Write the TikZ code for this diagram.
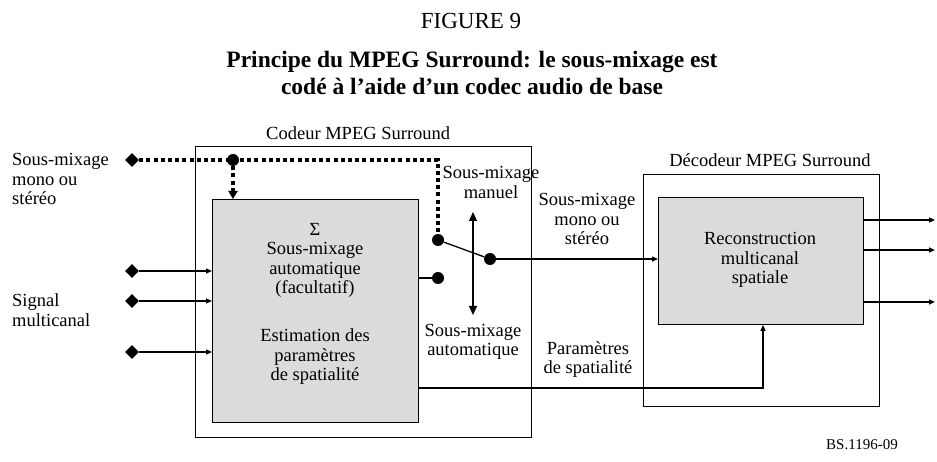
\documentclass[tikz,border=0pt]{standalone}
\usepackage{fontspec}
\setmainfont{Liberation Serif}
\usetikzlibrary{arrows.meta,shapes.geometric}
\begin{document}
\begin{tikzpicture}[x=1pt,y=-1pt,
  lbl/.style={font=\fontsize{18.5}{19.5}\selectfont, align=center, inner sep=0},
  lbll/.style={font=\fontsize{18.5}{19.5}\selectfont, align=left, inner sep=0, anchor=west},
  box/.style={draw, line width=0.9pt, inner sep=0, anchor=north west},
  graybox/.style={box, fill=black!14},
  dia/.style={diamond, fill, inner sep=0, minimum width=14pt, minimum height=14pt},
  dot/.style={circle, fill, inner sep=0, minimum size=12pt},
  wire/.style={line width=1.3pt},
  arr/.style={wire, -{Triangle[length=6pt,width=5pt]}},
  dotline/.style={line width=3.8pt, dash pattern=on 4pt off 3.2pt},
  bigarr/.style={wire, {Triangle[length=9pt,width=8pt]}-{Triangle[length=9pt,width=8pt]}},
  ttl/.style={inner sep=0, anchor=base, font=\fontsize{23.5}{27}\selectfont\bfseries}
]
\useasboundingbox (0,0) rectangle (937,462);

% titles
\node[inner sep=0, anchor=base, font=\fontsize{23}{26}\selectfont] (fig) at (471,29) {FIGURE 9};
\node[ttl] (title1) at (472,68) {Principe du MPEG Surround: le sous-mixage est};
\node[ttl] (title2) at (472,95) {cod\'e \`a l'aide d'un codec audio de base};

% boxes
\node[box, minimum width=336pt, minimum height=291pt] (enc) at (195,146) {};
\node[graybox, minimum width=206pt, minimum height=223pt] (gray) at (212,199) {};
\node[box, minimum width=236pt, minimum height=232pt] (dec) at (643,174) {};
\node[graybox, minimum width=205pt, minimum height=127pt] (dgray) at (658,197) {};

\node[lbl, anchor=west] (enclbl) at (266,133) {Codeur MPEG Surround};
\node[lbl] (declbl) at (770,160) {D\'ecodeur MPEG Surround};

% texts inside gray boxes
\node[lbl] (t1) at (315,260.5) {Σ\\Sous-mixage\\automatique\\(facultatif)};
\node[lbl] (t2) at (315,357) {Estimation des\\param\`etres\\de spatialit\'e};
\node[lbl] (t3) at (760,260) {Reconstruction\\multicanal\\spatiale};

% left labels
\node[lbll] (l1) at (12,179) {Sous-mixage\\mono ou\\st\'er\'eo};
\node[lbll] (l2) at (12,310) {Signal\\multicanal};

% diamonds
\node[dia] (d1) at (132,160) {};
\node[dia] (d2) at (132,271) {};
\node[dia] (d3) at (132,301) {};
\node[dia] (d4) at (132,352) {};

% dots
\node[dot] (jn) at (233,160) {};
\node[dot] (sw1) at (438,240) {};
\node[dot] (sw2) at (438,278) {};
\node[dot] (swc) at (490,259) {};
\coordinate (corner) at (438,160);

% dotted path
\draw[dotline] (d1.east) -- (corner) -- (sw1.north);
\draw[dotline, -{Triangle[length=8pt,width=9pt]}] (jn) -- (jn |- gray.north);

% input arrows
\draw[arr] (d2) -- (d2 -| gray.west);
\draw[arr] (d3) -- (d3 -| gray.west);
\draw[arr] (d4) -- (d4 -| gray.west);

% switch
\draw[wire] (sw1) -- (swc);
\draw[wire] (sw2 -| gray.east) -- (sw2);
\coordinate (va) at (473,212);
\coordinate (vb) at (473,315);
\draw[bigarr] (va) -- (vb);

\node[lbl] (sm) at (491,182.5) {Sous-mixage\\manuel};
\node[lbl] (sa) at (473,342) {Sous-mixage\\automatique};

% to decoder
\draw[arr] (swc) -- (swc -| dgray.west);
\node[lbl] (dm) at (587,219) {Sous-mixage\\mono ou\\st\'er\'eo};

\coordinate (pc) at (763,388);
\draw[arr] (gray.east |- pc) -- (pc) -- (dgray.south -| pc);
\node[lbl] (pl) at (588,359.5) {Param\`etres\\de spatialit\'e};

% outputs
\coordinate (o1) at (935,220);
\coordinate (o2) at (935,250);
\coordinate (o3) at (935,302);
\draw[arr] (dgray.east |- o1) -- (o1);
\draw[arr] (dgray.east |- o2) -- (o2);
\draw[arr] (dgray.east |- o3) -- (o3);

\node[inner sep=0, font=\fontsize{15}{17}\selectfont] (ref) at (862,445) {BS.1196-09};
\end{tikzpicture}
\end{document}
